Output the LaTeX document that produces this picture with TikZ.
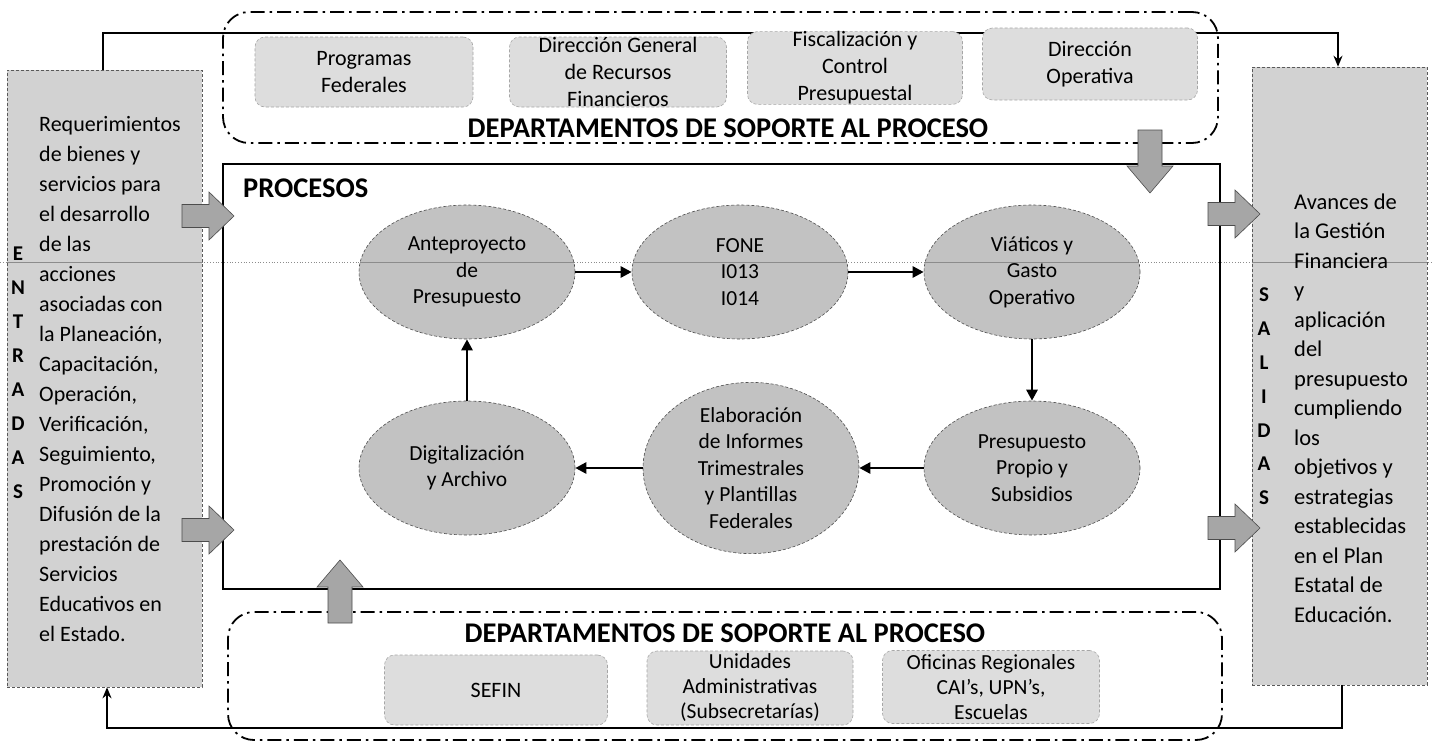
\documentclass[tikz,border=0pt]{standalone}
\usepackage{fontspec}
\setmainfont{Carlito}
\usetikzlibrary{shapes.geometric,arrows.meta}
\definecolor{panelfill}{HTML}{D2D2D2}
\definecolor{boxfill}{HTML}{DDDDDD}
\definecolor{ellfill}{HTML}{C2C2C2}
\definecolor{arrfill}{HTML}{A6A6A6}
\definecolor{foldc}{HTML}{8C8C8C}
\begin{document}
\begin{tikzpicture}[x=1pt,y=-1pt,
  fold/.style={foldc, line width=0.8pt},
  foldpic/.style={path picture={\draw[fold, solid] (fl) -- (fr);}},
  panel/.style={draw=gray!70!black, densely dashed, line width=0.6pt, fill=panelfill, inner sep=0pt, foldpic},
  conn/.style={draw, line width=1.6pt, -{Stealth[length=11pt,width=9pt]}},
  dbox/.style={draw, line width=1.8pt, rounded corners=26pt, dash pattern=on 14pt off 5pt on 2.5pt off 5pt, inner sep=0pt},
  sbox/.style={rectangle, rounded corners=10pt, draw=gray!70, densely dashed, line width=0.6pt, fill=boxfill, align=center, inner sep=0pt, font=\fontsize{22}{27}\selectfont},
  ell/.style={ellipse, draw=gray!60!black, densely dashed, line width=0.6pt, fill=ellfill, minimum width=216pt, minimum height=134pt, inner sep=0pt, align=center, font=\fontsize{21.5}{26.5}\selectfont},
  parr/.style={line width=2.6pt, -{Triangle[length=11pt,width=11pt]}},
  ptext/.style={align=left, inner sep=0pt},
  letters/.style={align=center, inner sep=0pt, font=\bfseries\fontsize{21}{34}\selectfont},
  title/.style={inner sep=0pt, font=\bfseries\fontsize{28.5}{30}\selectfont},
  blk/.style={draw=gray!60!black, line width=0.6pt, fill=arrfill},
  harrow/.pic={\path[blk] (0,-11.5) -- (27,-11.5) -- (27,-24) -- (52,0) -- (27,24) -- (27,11.5) -- (0,11.5) -- cycle;},
  varrow/.pic={\path[blk] (0,-12) -- (36,-12) -- (36,-23) -- (63,0) -- (36,23) -- (36,12) -- (0,12) -- cycle;}
]
\useasboundingbox[fill=white] (0,0) rectangle (1432,744);
\coordinate (fl) at (0,262);
\coordinate (fr) at (1432,262);
\draw[fold, dotted] (fl) -- (fr);

% side panels
\node[panel, minimum width=195pt, minimum height=617pt] (inp) at (104.5,378.5) {};
\node[panel, minimum width=175pt, minimum height=618pt] (outp) at (1339.5,376) {};

% loop connectors
\coordinate (tl) at (103,33);
\coordinate (tr) at (1338,33);
\draw[conn] (inp.north -| tl) -- (tl) -- (tr) -- (outp.north -| tr);
\coordinate (bl) at (107,728);
\coordinate (br) at (1342,728);
\draw[conn] (outp.south -| br) -- (br) -- (bl) -- (inp.south -| bl);

% frames
\node[dbox, minimum width=995pt, minimum height=131pt] (topsup) at (720.5,77.5) {};
\node[dbox, minimum width=994pt, minimum height=128pt] (botsup) at (725,676) {};
\node[draw, line width=1.8pt, minimum width=997pt, minimum height=425pt, inner sep=0pt] (proc) at (721.5,376.5) {};

% support boxes (top)
\node[sbox, minimum width=218pt, minimum height=70pt] (prog) at (364,72) {Programas\\Federales};
\node[sbox, minimum width=217pt, minimum height=70pt] (dgrf) at (618,72) {Dirección General\\de Recursos\\Financieros};
\node[sbox, minimum width=215pt, minimum height=64pt] (fisc) at (855,68) {Fiscalización y\\Control\\Presupuestal};
\node[sbox, minimum width=215pt, minimum height=72pt] (dirop) at (1090,64) {Dirección\\Operativa};

% support boxes (bottom)
\node[sbox, minimum width=223pt, minimum height=70pt] (sefin) at (496,690) {SEFIN};
\node[sbox, minimum width=206pt, minimum height=74pt, font=\fontsize{21.5}{25}\selectfont] (unid) at (750,688) {Unidades\\Administrativas\\(Subsecretarías)};
\node[sbox, minimum width=217pt, minimum height=73pt, font=\fontsize{21.5}{25}\selectfont] (ofic) at (991,687) {Oficinas Regionales\\CAI's, UPN's,\\Escuelas};

% titles
\node[title] (ttop) at (728,128) {DEPARTAMENTOS DE SOPORTE AL PROCESO};
\node[title] (tbot) at (725,633) {DEPARTAMENTOS DE SOPORTE AL PROCESO};
\node[title, anchor=west] (tproc) at (243,188) {PROCESOS};

% process ellipses
\node[ell, foldpic] (ante) at (467,272) {Anteproyecto\\de\\Presupuesto};
\node[ell, foldpic] (fone) at (740,272) {FONE\\I013\\I014};
\node[ell, foldpic] (viat) at (1032,272) {Viáticos y\\Gasto\\Operativo};
\node[ell] (pres) at (1032,468) {Presupuesto\\Propio y\\Subsidios};
\node[ell] (elab) at (751,468) {Elaboración\\de Informes\\Trimestrales\\y Plantillas\\Federales};
\node[ell] (digi) at (467,468) {Digitalización\\y Archivo};

\draw[parr] (ante) -- (fone);
\draw[parr] (fone) -- (viat);
\draw[parr] (viat) -- (pres);
\draw[parr] (pres) -- (elab);
\draw[parr] (elab) -- (digi);
\draw[parr] (digi) -- (ante);

% block arrows
\pic at (182,216) {harrow};
\pic at (182,530) {harrow};
\pic at (1208,214) {harrow};
\pic at (1208,528) {harrow};
\pic[rotate=-90] at (1150,130) {varrow};
\pic[rotate=90] at (340,623) {varrow};

% panel texts
\node[ptext, anchor=north west, font=\fontsize{22}{30}\selectfont] (intext) at (39,116) {Requerimientos\\de bienes y\\servicios para\\el desarrollo\\de las\\acciones\\asociadas con\\la Planeación,\\Capacitación,\\Operación,\\Verificación,\\Seguimiento,\\Promoción y\\Difusión de la\\prestación de\\Servicios\\Educativos en\\el Estado.};
\node[letters, anchor=north] (inlet) at (18,247) {E\\N\\T\\R\\A\\D\\A\\S};
\node[ptext, anchor=north west, font=\fontsize{22.5}{29.5}\selectfont] (outtext) at (1294,193.5) {Avances de\\la Gestión\\Financiera\\y\\aplicación\\del\\presupuesto\\cumpliendo\\los\\objetivos y\\estrategias\\establecidas\\en el Plan\\Estatal de\\Educación.};
\node[letters, anchor=north, font=\bfseries\fontsize{21}{33.8}\selectfont] (outlet) at (1264,288) {S\\A\\L\\I\\D\\A\\S};
\end{tikzpicture}
\end{document}
